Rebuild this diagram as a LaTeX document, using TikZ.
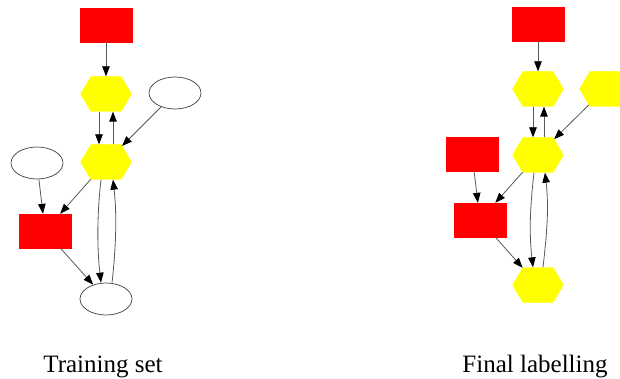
\documentclass[tikz,border=0pt]{standalone}
\usepackage{fontspec}
\setmainfont{Liberation Serif}
\usetikzlibrary{shapes.geometric,shapes.symbols,arrows.meta}
\definecolor{gvred}{RGB}{255,0,0}
\definecolor{gvyellow}{RGB}{255,255,0}
\tikzset{
  redbox/.style={rectangle, fill=gvred, draw=gvred, line width=0.3pt, minimum width=52pt, minimum height=34pt, inner sep=0pt},
  hexa/.style={signal, signal to=east and west, signal pointer angle=118, fill=gvyellow, draw=gvyellow, line width=0.3pt, minimum width=51pt, minimum height=35pt, inner sep=0pt},
  oval/.style={ellipse, draw=black!75, line width=0.7pt, fill=white, minimum width=52pt, minimum height=32pt, inner sep=0pt},
  edge/.style={draw=black!65, line width=0.8pt, -{Triangle[length=10pt,width=7.5pt,color=black,fill=black]}},
  caption/.style={font=\fontsize{25}{30}\selectfont, anchor=base, inner sep=0pt}
}
\begin{document}
\begin{tikzpicture}[x=1pt,y=-1pt]
\clip (0,0) rectangle (620,379);
\fill[white] (0,0) rectangle (620,379);
% ---------- Training set ----------
\node[redbox] (ta) at (106,25) {};
\node[hexa] (th1) at (106,94) {};
\node[oval] (te1) at (175,93) {};
\node[hexa] (th2) at (106,162) {};
\node[oval] (te2) at (37,163) {};
\node[redbox] (tb) at (45,231) {};
\node[oval] (te3) at (106,299) {};
\draw[edge] (ta) -- (th1);
\draw[edge] ([xshift=-7]th1.south) -- ([xshift=-7]th2.north);
\draw[edge] ([xshift=7]th2.north) -- ([xshift=7]th1.south);
\draw[edge] (te1) -- (th2);
\draw[edge] (th2) -- (tb);
\draw[edge] (te2) -- (tb);
\draw[edge] (tb) -- (te3);
\draw[edge] ([xshift=-5]th2.south) .. controls +(-4,35) and +(-4,-35) .. ([xshift=-5]te3.north);
\draw[edge] ([xshift=6]te3.north) .. controls +(4,-35) and +(4,35) .. ([xshift=7]th2.south);
% ---------- Final labelling ----------
\node[redbox] (fa) at (538,24) {};
\node[hexa] (fh1) at (538,89) {};
\node[hexa] (fh3) at (605,89) {};
\node[hexa] (fh2) at (538,155) {};
\node[redbox] (fc) at (472,154) {};
\node[redbox] (fb) at (480,220) {};
\node[hexa] (fh4) at (538,285) {};
\draw[edge] (fa) -- (fh1);
\draw[edge] ([xshift=-5]fh1.south) -- ([xshift=-5]fh2.north);
\draw[edge] ([xshift=6]fh2.north) -- ([xshift=6]fh1.south);
\draw[edge] (fh3) -- (fh2);
\draw[edge] (fh2) -- (fb);
\draw[edge] (fc) -- (fb);
\draw[edge] (fb) -- (fh4);
\draw[edge] ([xshift=-4]fh2.south) .. controls +(-4,35) and +(-4,-35) .. ([xshift=-5]fh4.north);
\draw[edge] ([xshift=5]fh4.north) .. controls +(4,-35) and +(4,35) .. ([xshift=7]fh2.south);
% ---------- captions ----------
\node[caption] (cap1) at (103,372) {Training set};
\node[caption] (cap2) at (535,372) {Final labelling};
\end{tikzpicture}
\end{document}
